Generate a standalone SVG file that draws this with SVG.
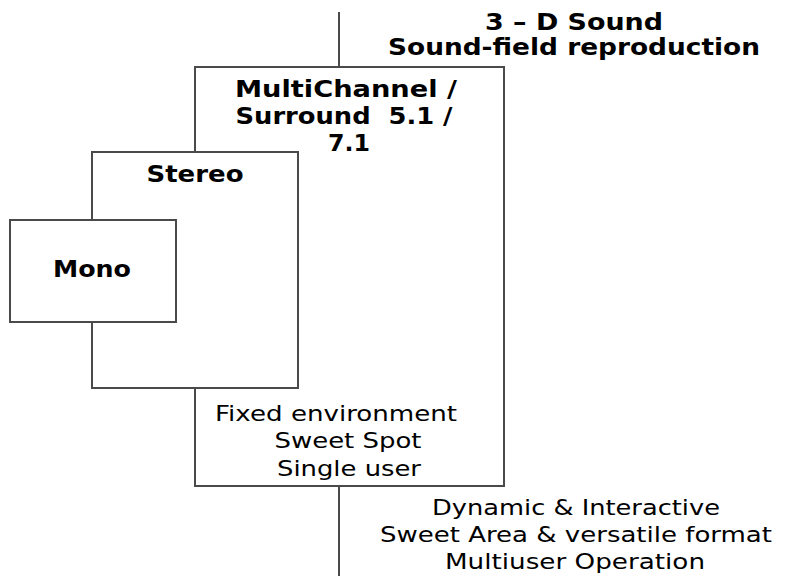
<svg xmlns="http://www.w3.org/2000/svg" width="800" height="576" viewBox="0 0 800 576">
<style>
.box{fill:#fff;stroke:#4a4a4a;stroke-width:2}
.ln{stroke:#4a4a4a;stroke-width:2;fill:none}
.b{font-family:"DejaVu Sans",Verdana,sans-serif;font-weight:bold;font-size:23px;fill:#000;text-anchor:middle}
.r{font-family:"DejaVu Sans",Verdana,sans-serif;font-size:21px;fill:#000;text-anchor:middle}
</style>
<rect width="800" height="576" fill="#fff"/>
<g id="connectors">
<line class="ln" x1="339" y1="12" x2="339" y2="67"/>
<line class="ln" x1="339" y1="486" x2="339" y2="576"/>
</g>
<g id="sound3d">
<text class="b" x="574" y="30" textLength="178" lengthAdjust="spacingAndGlyphs">3 – D Sound</text>
<text class="b" x="574" y="55" textLength="372" lengthAdjust="spacingAndGlyphs">Sound-field reproduction</text>
</g>
<g id="multichannel">
<rect class="box" x="195" y="67" width="309" height="419"/>
<text class="b" x="346" y="97" textLength="222" lengthAdjust="spacingAndGlyphs">MultiChannel /</text>
<text class="b" x="344" y="124" textLength="217" lengthAdjust="spacingAndGlyphs" xml:space="preserve">Surround  5.1 /</text>
<text class="b" x="349" y="151" textLength="42" lengthAdjust="spacingAndGlyphs">7.1</text>
<text class="r" x="336" y="421" textLength="242" lengthAdjust="spacingAndGlyphs">Fixed environment</text>
<text class="r" x="348" y="448" textLength="147" lengthAdjust="spacingAndGlyphs">Sweet Spot</text>
<text class="r" x="349" y="476" textLength="144" lengthAdjust="spacingAndGlyphs">Single user</text>
</g>
<g id="stereo">
<rect class="box" x="92" y="152" width="206" height="236"/>
<text class="b" x="195" y="182" textLength="97" lengthAdjust="spacingAndGlyphs">Stereo</text>
</g>
<g id="mono">
<rect class="box" x="10" y="220" width="166" height="102"/>
<text class="b" x="92" y="277" textLength="78" lengthAdjust="spacingAndGlyphs">Mono</text>
</g>
<g id="properties3d">
<text class="r" x="576" y="515" textLength="288" lengthAdjust="spacingAndGlyphs">Dynamic &amp; Interactive</text>
<text class="r" x="576" y="542" textLength="392" lengthAdjust="spacingAndGlyphs">Sweet Area &amp; versatile format</text>
<text class="r" x="575" y="569" textLength="260" lengthAdjust="spacingAndGlyphs">Multiuser Operation</text>
</g>
</svg>
